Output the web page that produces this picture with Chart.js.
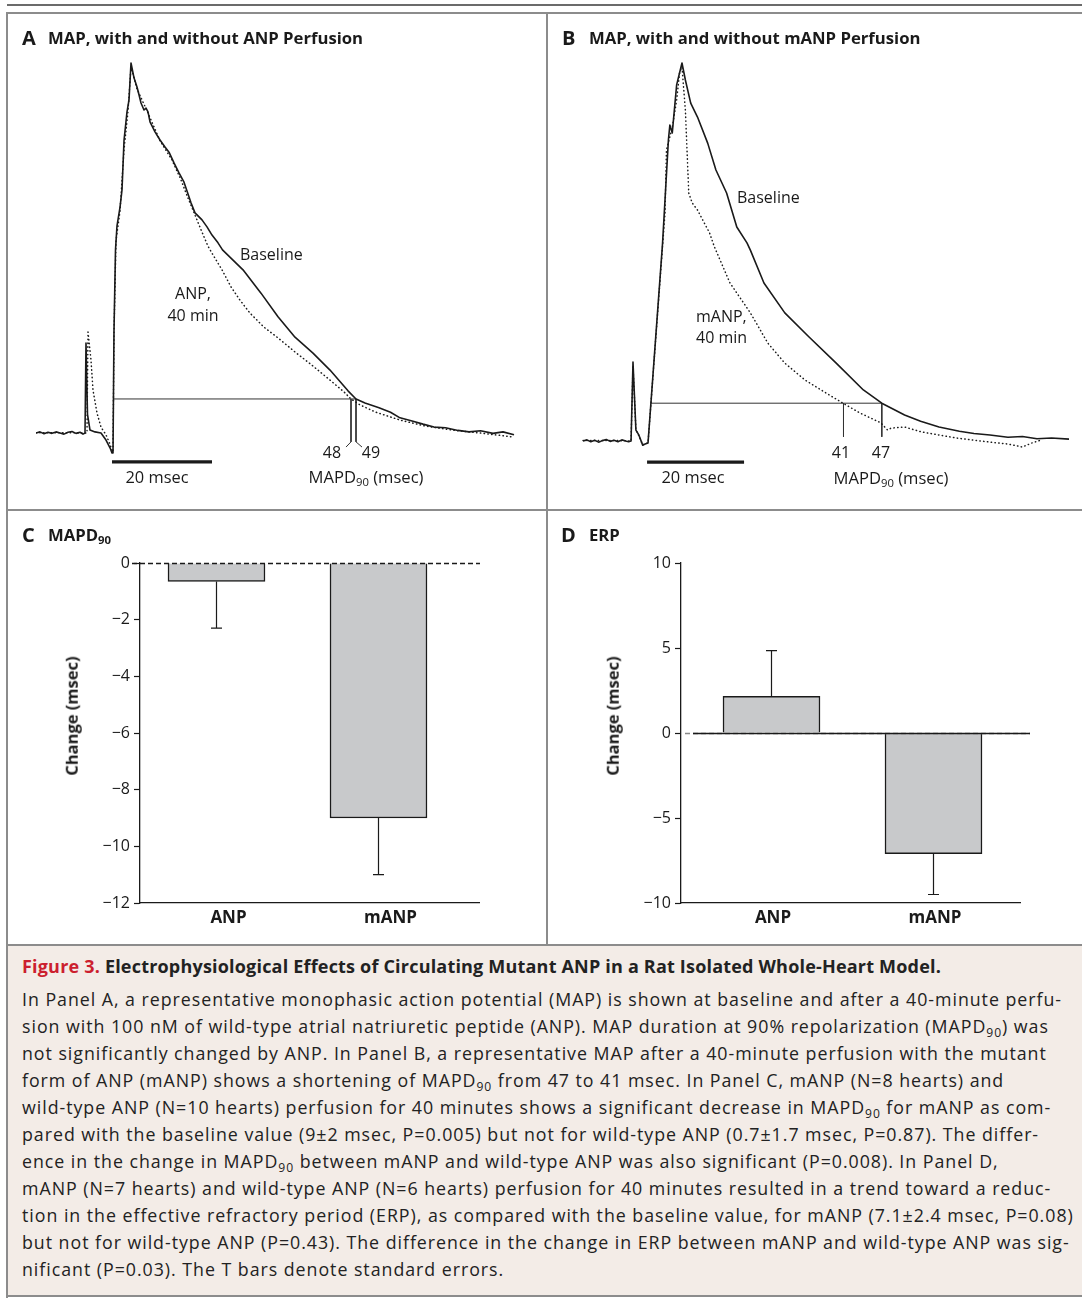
<!DOCTYPE html>
<html>
<head>
<meta charset="utf-8">
<script src="https://cdn.jsdelivr.net/npm/chart.js@4.4.0/dist/chart.umd.min.js"></script>
<style>
  body { margin: 0; background: #fff; font-family: "Open Sans", sans-serif; color: #1a1a1a; }
  #page { position: relative; width: 1082px; height: 1298px; overflow: hidden; background: #fff; }
  canvas { position: absolute; }
  .rule { position: absolute; background: #8c8c8c; }
  .lbl { position: absolute; white-space: nowrap; line-height: 1; font-size: 16px; }
  .mid { transform: translate(-50%, -50%); }
  .left { transform: translateY(-50%); }
  .letter { position: absolute; font-weight: 700; font-size: 20px; line-height: 1; transform: translateY(-50%); }
  .title { position: absolute; font-weight: 700; font-size: 16.7px; line-height: 1; white-space: nowrap; transform: translateY(-50%); }
  .ytitle { position: absolute; font-weight: 700; font-size: 16.5px; white-space: nowrap; line-height: 1;
            transform: translate(-50%, -50%) rotate(-90deg); }
  sub { font-size: 0.68em; vertical-align: -0.3em; line-height: 0; }
  #capbg { position: absolute; left: 8px; top: 946px; width: 1074px; height: 350px; background: #f3ece7; }
  #cap { position: absolute; left: 22px; top: 953px; width: 1055px; font-size: 17.8px; line-height: 27px; color: #222; }
  #cap div { white-space: nowrap; width: max-content; }
  #cap .head { font-weight: 700; font-size: 18px; margin-bottom: 6px; }
  #cap .red { color: #cc1f2f; }
</style>
</head>
<body>
<div id="page">
  <canvas id="chartA"></canvas>
  <canvas id="chartB"></canvas>
  <canvas id="chartC"></canvas>
  <canvas id="chartD"></canvas>

  <div class="rule" style="left:7px;top:4px;width:1075px;height:2px;background:#6b6b6b"></div>
  <div class="rule" style="left:7px;top:12px;width:1075px;height:2px"></div>
  <div class="rule" style="left:6px;top:12px;width:2px;height:1286px"></div>
  <div class="rule" style="left:546px;top:12px;width:2px;height:932px"></div>
  <div class="rule" style="left:7px;top:509px;width:1075px;height:2px"></div>
  <div id="capbg"></div>
  <div class="rule" style="left:7px;top:944px;width:1075px;height:2px"></div>
  <div class="rule" style="left:7px;top:1295px;width:1075px;height:2px"></div>

  <!-- panel titles -->
  <div class="letter" style="left:22px;top:38px">A</div>
  <div class="title" style="left:48px;top:38px">MAP, with and without ANP Perfusion</div>
  <div class="letter" style="left:562px;top:38px">B</div>
  <div class="title" style="left:589px;top:38px">MAP, with and without mANP Perfusion</div>
  <div class="letter" style="left:22px;top:535px">C</div>
  <div class="title" style="left:48px;top:535px">MAPD<sub>90</sub></div>
  <div class="letter" style="left:561px;top:535px">D</div>
  <div class="title" style="left:589px;top:535px">ERP</div>

  <!-- panel A labels -->
  <div class="lbl left" style="left:240px;top:254px">Baseline</div>
  <div class="lbl mid" style="left:193px;top:293px">ANP,</div>
  <div class="lbl mid" style="left:193px;top:315px">40 min</div>
  <div class="lbl mid" id="a48" style="left:332px;top:452px"></div>
  <div class="lbl mid" id="a49" style="left:371px;top:452px"></div>
  <div class="lbl mid" style="left:366px;top:477px;font-size:16.6px">MAPD<sub>90</sub> (msec)</div>
  <div class="lbl mid" id="aBar" style="left:157px;top:477px;font-size:16.4px"></div>

  <!-- panel B labels -->
  <div class="lbl left" style="left:737px;top:197px">Baseline</div>
  <div class="lbl left" style="left:696px;top:316px">mANP,</div>
  <div class="lbl left" style="left:696px;top:337px">40 min</div>
  <div class="lbl mid" id="b41" style="left:841px;top:452px"></div>
  <div class="lbl mid" id="b47" style="left:881px;top:452px"></div>
  <div class="lbl mid" style="left:891px;top:478px;font-size:16.6px">MAPD<sub>90</sub> (msec)</div>
  <div class="lbl mid" id="bBar" style="left:693px;top:477px;font-size:16.4px"></div>

  <div class="ytitle" style="left:72px;top:716px">Change (msec)</div>
  <div class="ytitle" style="left:613px;top:716px">Change (msec)</div>

  <div id="cap">
    <div class="head"><span class="red">Figure 3.</span> Electrophysiological Effects of Circulating Mutant ANP in a Rat Isolated Whole-Heart Model.</div>
    <div class="body">In Panel A, a representative monophasic action potential (MAP) is shown at baseline and after a 40-minute perfu-</div>
    <div class="body">sion with 100 nM of wild-type atrial natriuretic peptide (ANP). MAP duration at 90% repolarization (MAPD<sub>90</sub>) was</div>
    <div class="body">not significantly changed by ANP. In Panel B, a representative MAP after a 40-minute perfusion with the mutant</div>
    <div class="body">form of ANP (mANP) shows a shortening of MAPD<sub>90</sub> from 47 to 41 msec. In Panel C, mANP (N=8 hearts) and</div>
    <div class="body">wild-type ANP (N=10 hearts) perfusion for 40 minutes shows a significant decrease in MAPD<sub>90</sub> for mANP as com-</div>
    <div class="body">pared with the baseline value (9±2 msec, P=0.005) but not for wild-type ANP (0.7±1.7 msec, P=0.87). The differ-</div>
    <div class="body">ence in the change in MAPD<sub>90</sub> between mANP and wild-type ANP was also significant (P=0.008). In Panel D,</div>
    <div class="body">mANP (N=7 hearts) and wild-type ANP (N=6 hearts) perfusion for 40 minutes resulted in a trend toward a reduc-</div>
    <div class="body">tion in the effective refractory period (ERP), as compared with the baseline value, for mANP (7.1±2.4 msec, P=0.08)</div>
    <div class="body">but not for wild-type ANP (P=0.43). The difference in the change in ERP between mANP and wild-type ANP was sig-</div>
    <div class="body">nificant (P=0.03). The T bars denote standard errors.</div>
  </div>
</div>

<script>
// ---- traces: [time (msec from upstroke), amplitude (% of peak)] ----
const A_BASELINE = [
  [-15.4, 0], [-14.6, 0.3], [-13.8, -0.2], [-13.0, 0.2], [-12.2, -0.1], [-11.4, 0.3], [-10.6, 0],
  [-9.8, -0.3], [-9.0, 0.2], [-8.2, 0.4], [-7.4, -0.1], [-6.6, 0.2], [-6.0, -0.3], [-5.6, 0],
  [-5.4, 24.3], [-5.1, 5], [-4.6, 0.8], [-3.6, 0.3], [-2.4, 0], [-1.4, -1.9], [-0.6, -4], [-0.2, -5.4],
  [0, -5.4], [0.2, 27.8], [0.5, 49.5], [0.8, 56], [1.4, 61], [1.8, 65.7], [2.2, 79], [2.8, 86.8],
  [3.2, 90], [3.6, 100], [4.2, 96], [4.8, 93.5], [5.2, 91.4], [5.6, 89.2], [6.2, 87.3], [6.6, 87.8],
  [7.0, 86.8], [7.4, 84.1], [8.4, 81.4], [9.4, 79.2], [10.4, 77.3], [11.2, 75.9], [12.2, 73],
  [13.2, 70.3], [14.2, 67.8], [15.6, 62.2], [16.4, 59.5], [17.8, 57.6], [18.8, 55.7], [19.8, 53.5],
  [21.0, 51.4], [21.9, 49.5], [26.0, 44.1], [29.6, 37.8], [33.0, 31.4], [36.4, 25.9], [40.0, 21.6],
  [43.4, 17], [47.0, 11.4], [48.6, 9.2], [50.4, 8.1], [53.2, 6.8], [55.5, 5.6], [57.4, 4.1],
  [60.0, 3.2], [62.0, 2.4], [64.2, 1.6], [66.5, 1.4], [69.0, 0.7], [71.2, 0.3], [73.5, 0.6],
  [76.0, -0.1], [78.0, 0.3], [80.2, -0.5]
];
const A_ANP = [
  [-15.4, 0.1], [-12, 0.1], [-9, 0.1], [-6, 0], [-5.2, 0], [-5.0, 27.3], [-4.4, 19.7], [-4.0, 11.6],
  [-3.2, 5.4], [-2.4, 1.6], [-1.4, -0.5], [-0.7, -2.7], [-0.2, -4.6], [0, -5.1], [0.2, 27], [0.6, 52],
  [1.4, 60], [2.2, 76.5], [3.0, 87], [3.6, 99], [4.8, 93], [7.0, 86.5], [9.4, 79], [11.8, 73.8],
  [13.6, 68.4], [15, 63.5], [16.4, 58.9], [17.8, 54.3], [19, 50.5], [19.8, 48.6], [21.8, 44.1],
  [23.6, 39.5], [25.4, 35.9], [27.4, 32.4], [30.2, 28.6], [33, 25.7], [36.4, 21.9], [40, 18.1],
  [43.4, 14.3], [46.2, 11.1], [47.6, 9.2], [49.4, 7.6], [52.4, 5.7], [57.4, 3.5], [62.4, 1.9],
  [67.8, 0.8], [73.4, 0], [80.2, -1.1]
];
const B_BASELINE = [
  [-13.6, 0], [-12.8, 0.3], [-12, -0.2], [-11.2, 0.2], [-10.4, -0.3], [-9.6, 0.1], [-8.8, 0.4],
  [-8, -0.1], [-7.2, 0.2], [-6.4, -0.2], [-5.6, 0.3], [-4.8, 0], [-4.2, -0.2], [-3.7, 0],
  [-3.3, 20.9], [-2.7, 2.9], [-2.1, 1.6], [-1.3, -1.1], [-0.8, -0.8], [-0.2, -0.5], [2.8, 52.4],
  [4.0, 79.6], [4.3, 83.6], [4.8, 81.5], [5.7, 94.2], [6.8, 100], [7.5, 95.5], [8.6, 89.4],
  [10, 85.7], [12.1, 78.8], [13.8, 71.7], [16, 65.6], [18.1, 56.6], [20.2, 52.4], [20.9, 50.5],
  [23.7, 41.8], [28, 33.9], [33, 27.5], [38.6, 20.6], [44.2, 13.5], [48, 10], [52.7, 6.9],
  [56, 5.2], [59.8, 3.7], [64, 2.6], [67, 2.0], [70.3, 1.6], [74, 1.0], [77, 1.2], [80, 0.6],
  [83, 0.8], [86.6, 0.5]
];
const B_MANP = [
  [-13.6, 0.1], [-10, 0.1], [-6, 0.1], [-3.7, 0], [-3.3, 20], [-2.7, 3], [-2.1, 1.4], [-1.3, -1],
  [-0.2, -0.5], [3.3, 60.3], [3.6, 77], [4.8, 83], [5.7, 90.2], [6.3, 97.4], [6.8, 98.9],
  [7.5, 87.6], [8.2, 65.6], [8.9, 63], [10, 61.1], [12.5, 55], [13.5, 51.3], [16.7, 41.8],
  [20.9, 33.9], [24.5, 25.9], [28, 20.6], [32.2, 16.1], [36.5, 12.7], [40, 10], [43.5, 7.4],
  [47.8, 4.8], [49.2, 2.9], [49.9, 3.4], [52.7, 3.7], [56.2, 2.4], [63.3, 0.8], [70.3, -0.3],
  [74, -0.8], [77, -1.6], [79, -0.5], [81, 0.3]
];

// MAPD90 read-outs: printed values and where the markers cross the 90% line
const A_MAPD_LABELS = ['48', '49'];
const A_MAPD_MARKS = [47.6, 48.6];
const A_REPOL_LEVEL = 9.2;
const B_MAPD_LABELS = ['41', '47'];
const B_MAPD_MARKS = [40.1, 48];
const B_REPOL_LEVEL = 10;
const SCALE_BAR_MS = 20;

// ---- bar panels ----
const GROUPS = ['ANP', 'mANP'];
const C_CHANGE = [-0.65, -9.0];
const C_SE = [1.65, 2.0];
const D_CHANGE = [2.15, -7.1];
const D_SE = [2.7, 2.4];
const C_TICKS = [0, -2, -4, -6, -8, -10, -12];
const D_TICKS = [10, 5, 0, -5, -10];

const FONT = '"Open Sans", sans-serif';
const INK = '#1a1a1a';

document.getElementById('a48').textContent = A_MAPD_LABELS[0];
document.getElementById('a49').textContent = A_MAPD_LABELS[1];
document.getElementById('b41').textContent = B_MAPD_LABELS[0];
document.getElementById('b47').textContent = B_MAPD_LABELS[1];
document.getElementById('aBar').textContent = SCALE_BAR_MS + ' msec';
document.getElementById('bBar').textContent = SCALE_BAR_MS + ' msec';

// caption: spread letters so the first body line and the heading match the original measure
function fitWidth(el, target) {
  el.style.letterSpacing = '0px';
  const w = el.getBoundingClientRect().width;
  const n = el.textContent.length;
  return (target - w) / n;
}
const bodyLines = [...document.querySelectorAll('#cap .body')];
const ls = fitWidth(bodyLines[0], 1040);
bodyLines.forEach(el => { el.style.letterSpacing = ls + 'px'; });
const head = document.querySelector('#cap .head');
head.style.letterSpacing = fitWidth(head, 919) + 'px';

function place(id, r) {
  const cv = document.getElementById(id);
  cv.width = r.w; cv.height = r.h;
  cv.style.left = r.x + 'px'; cv.style.top = r.y + 'px';
  return cv;
}

const pts = arr => arr.map(p => ({ x: p[0], y: p[1] }));
const line = (data, extra) => Object.assign({
  data, showLine: true, pointRadius: 0, borderColor: INK, borderWidth: 1, tension: 0,
  borderJoinStyle: 'round', fill: false
}, extra);

// m: page mapping of the trace: x0/y0 = page px of t=0 / v=0, sx/sy = px per unit
function traceChart(id, rect, m, range, solid, dotted, marks) {
  const cv = place(id, rect);
  const px = t => m.x0 + t * m.sx, py = v => m.y0 - v * m.sy;
  const padding = {
    left: px(range.t[0]) - rect.x,
    right: rect.x + rect.w - px(range.t[1]),
    top: py(range.v[1]) - rect.y,
    bottom: rect.y + rect.h - py(range.v[0])
  };
  const datasets = [
    line(pts(solid), { borderWidth: 1.6 }),
    line(pts(dotted), { borderWidth: 1.5, borderDash: [0.4, 3.4], borderCapStyle: 'round' }),
    line(pts([[marks.start, marks.level], [marks.end, marks.level]]), { borderWidth: 1, borderColor: '#333' }),
    line(pts([[marks.bar[0], marks.barLevel], [marks.bar[0] + SCALE_BAR_MS, marks.barLevel]]), { borderWidth: 3.2, borderCapStyle: 'butt' })
  ];
  marks.ticks.forEach((t, i) => {
    const seg = [[t, marks.level], [t, marks.foot]];
    if (marks.leader) seg.push([t + marks.leader[i], marks.foot - 1.4]);
    datasets.push(line(pts(seg), { borderWidth: 1, borderColor: '#333' }));
  });
  return new Chart(cv, {
    type: 'scatter',
    data: { datasets },
    options: {
      responsive: false, animation: false, events: [],
      layout: { padding },
      plugins: { legend: { display: false }, tooltip: { enabled: false } },
      scales: {
        x: { type: 'linear', display: false, min: range.t[0], max: range.t[1] },
        y: { type: 'linear', display: false, min: range.v[0], max: range.v[1] }
      }
    }
  });
}

traceChart('chartA', { x: 7, y: 13, w: 540, h: 497 },
  { x0: 113, sx: 5, y0: 433, sy: 3.7 },
  { t: [-15.4, 80.6], v: [-20, 110] },
  A_BASELINE, A_ANP,
  { start: 0, end: A_MAPD_MARKS[1], level: A_REPOL_LEVEL, ticks: A_MAPD_MARKS, foot: -2.4,
    leader: [-1.0, 1.2], bar: [-0.2], barLevel: -7.8 });

traceChart('chartB', { x: 548, y: 13, w: 534, h: 497 },
  { x0: 649, sx: 4.85, y0: 441, sy: 3.78 },
  { t: [-13.8, 87], v: [-18, 110] },
  B_BASELINE, B_MANP,
  { start: 0.4, end: B_MAPD_MARKS[1], level: B_REPOL_LEVEL, ticks: B_MAPD_MARKS, foot: 1.1,
    leader: null, bar: [-0.4], barLevel: -5.6 });

// ---- bar chart plugins ----
const errorBars = {
  id: 'errorBars',
  afterDatasetsDraw(chart, args, opts) {
    const { ctx } = chart, y = chart.scales.y;
    const meta = chart.getDatasetMeta(0);
    ctx.save();
    ctx.strokeStyle = INK; ctx.lineWidth = 1.2;
    meta.data.forEach((bar, i) => {
      const v = opts.values[i], tip = v + Math.sign(v) * opts.errors[i];
      const y0 = y.getPixelForValue(v), y1 = y.getPixelForValue(tip);
      ctx.beginPath();
      ctx.moveTo(bar.x, y0); ctx.lineTo(bar.x, y1);
      ctx.moveTo(bar.x - 5.5, y1); ctx.lineTo(bar.x + 5.5, y1);
      ctx.stroke();
    });
    ctx.restore();
  }
};
const zeroLine = {
  id: 'zeroLine',
  afterDatasetsDraw(chart, args, opts) {
    const { ctx, chartArea } = chart;
    const y0 = Math.round(chart.scales.y.getPixelForValue(0)) + 0.5;
    ctx.save();
    opts.segments.forEach(s => {
      ctx.beginPath();
      ctx.strokeStyle = s.color; ctx.lineWidth = s.width;
      ctx.setLineDash(s.dash || []);
      ctx.moveTo(chartArea.left + s.from, y0);
      ctx.lineTo(chartArea.right + s.to, y0);
      ctx.stroke();
    });
    ctx.restore();
  }
};

const minus = v => (v < 0 ? '\u2212' + Math.abs(v) : String(v));

// area: page px of plot box; centers: page x of the two bars
function barChart(id, rect, area, centers, values, errors, ticks, segments, labelOffset) {
  const cv = place(id, rect);
  const w = area.right - area.left;
  const f0 = (centers[0] - area.left) / w, f1 = (centers[1] - area.left) / w;
  const span = 1 / (f1 - f0);
  return new Chart(cv, {
    type: 'bar',
    data: {
      datasets: [{
        data: values.map((v, i) => ({ x: i, y: v })),
        backgroundColor: '#c8c9cb', borderColor: INK, borderWidth: 1.5, barThickness: 97
      }]
    },
    plugins: [errorBars, zeroLine],
    options: {
      responsive: false, animation: false, events: [],
      layout: { padding: { left: 0, top: area.top - rect.y, right: rect.x + rect.w - area.right, bottom: 0 } },
      plugins: {
        legend: { display: false }, tooltip: { enabled: false },
        errorBars: { values, errors },
        zeroLine: { segments }
      },
      scales: {
        x: {
          type: 'linear', min: -f0 * span, max: -f0 * span + span, offset: false,
          afterFit: s => { s.height = rect.y + rect.h - area.bottom; },
          afterBuildTicks: s => { s.ticks = GROUPS.map((g, i) => ({ value: i })); },
          grid: { display: true, drawOnChartArea: false, drawTicks: false },
          border: { display: true, color: INK, width: 1.3 },
          ticks: { callback: v => GROUPS[v], padding: 5, labelOffset, color: INK,
                   font: { family: FONT, size: 17, weight: 'bold' } }
        },
        y: {
          min: Math.min(...ticks), max: Math.max(...ticks),
          afterFit: s => { s.width = area.left - rect.x; },
          afterBuildTicks: s => { s.ticks = ticks.map(v => ({ value: v })); },
          grid: { display: true, drawOnChartArea: false, drawTicks: true, tickLength: 6, color: INK, tickWidth: 1.2 },
          border: { display: true, color: INK, width: 1.3 },
          ticks: { callback: minus, padding: 4, color: INK, font: { family: FONT, size: 16 } }
        }
      }
    }
  });
}

barChart('chartC', { x: 7, y: 510, w: 540, h: 433 },
  { left: 140, right: 479, top: 563, bottom: 903 }, [216.5, 378.5],
  C_CHANGE, C_SE, C_TICKS,
  [{ from: -8, to: 1, color: INK, width: 1.3, dash: [5, 3] }], 12);

barChart('chartD', { x: 548, y: 510, w: 534, h: 433 },
  { left: 681, right: 1020, top: 563, bottom: 903 }, [771.5, 933.5],
  D_CHANGE, D_SE, D_TICKS,
  [{ from: 4, to: 10, color: '#888', width: 1.3, dash: [5, 3] },
   { from: 12, to: 10, color: INK, width: 1.3 }], 1.5);
</script>
</body>
</html>
